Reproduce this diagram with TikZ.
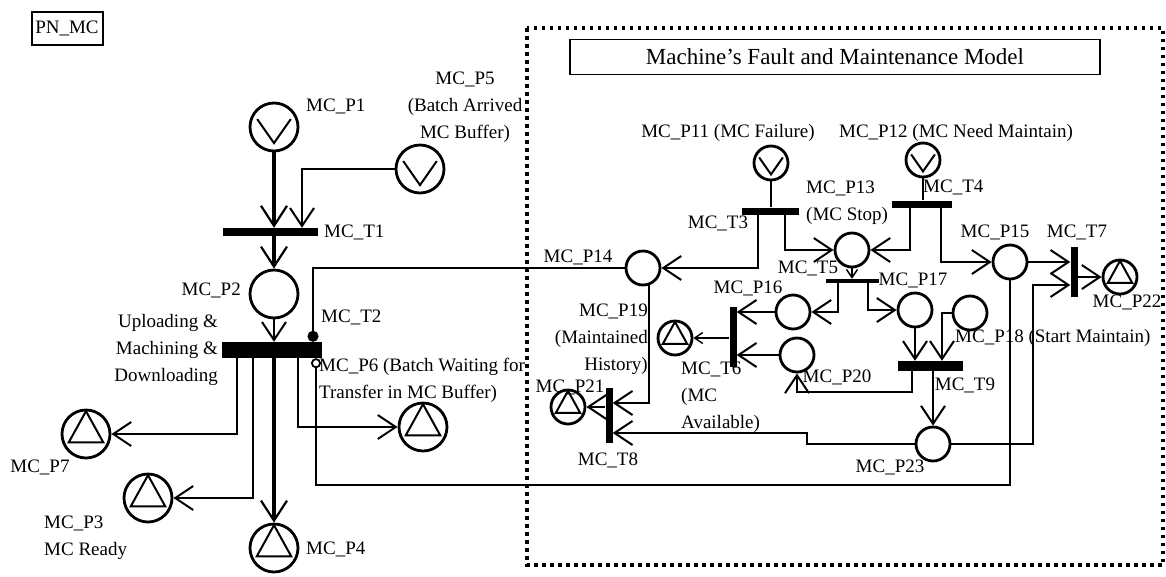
\documentclass[tikz,border=0pt]{standalone}
\usepackage{fontspec}
\setmainfont{Liberation Serif}
\usetikzlibrary{arrows.meta,calc}
\newcommand\srcsym[2]{\draw[line width=2pt,line join=miter,shift={(#1.center)}] (-0.7*#2,-0.33*#2) -- (0,0.67*#2) -- (0.7*#2,-0.33*#2);}
\newcommand\snksym[2]{\draw[line width=2pt,shift={(#1.center)}] (0,-0.95*#2) -- (-0.72*#2,0.35*#2) -- (0.72*#2,0.35*#2) -- cycle;}
\tikzset{
  bigpl/.style={circle,draw,line width=2.8pt,minimum size=48pt,inner sep=0pt},
  smpl/.style={circle,draw,line width=2.8pt,minimum size=34pt,inner sep=0pt},
  hbar/.style={rectangle,fill=black,draw=none,inner sep=0pt},
  arc/.style={line width=2pt,-{Straight Barb[length=18pt,width=24pt,line width=2pt]}},
  thickarc/.style={line width=4pt,-{Straight Barb[length=20pt,width=26pt,line width=2.2pt]}},
  smallarc/.style={line width=2pt,-{Straight Barb[length=8pt,width=11pt,line width=1.5pt]}},
  plain/.style={line width=2pt},
  lbl/.style={inner sep=0pt},
  dotframe/.style={line width=3.5pt,dash pattern=on 3.5pt off 4.5pt}
}
\begin{document}
\begin{tikzpicture}[x=1pt,y=-1pt,font=\fontsize{19}{27}\selectfont]
\useasboundingbox (0,0) rectangle (1166,576);
% frames
\node[draw,line width=2pt,minimum width=71pt,minimum height=33pt,inner sep=0pt] (pnmc) at (67,28) {PN\_MC};
\draw[dotframe] (527,28) rectangle (1163,565);
\node[draw,line width=1.5pt,minimum width=530pt,minimum height=35pt,font=\fontsize{23}{26}\selectfont] (title) at (835,57) {Machine’s Fault and Maintenance Model};

% ---------- left part ----------
\node[bigpl] (p1) at (274,127) {};
\node[bigpl] (p5) at (420,169) {};
\node[hbar,minimum width=95pt,minimum height=8pt] (t1) at (270,232) {};
\node[bigpl] (p2) at (274,294) {};
\node[hbar,minimum width=100pt,minimum height=16pt] (t2) at (272,350) {};
\node[bigpl] (p7) at (86,434) {};
\node[bigpl] (p3) at (148,498) {};
\node[bigpl] (p4) at (274,548) {};
\node[bigpl] (p6) at (423,427) {};
\srcsym{p1}{24}
\srcsym{p5}{24}
\snksym{p7}{24}
\snksym{p3}{24}
\snksym{p4}{24}
\snksym{p6}{24}

% ---------- right part ----------
\node[smpl] (p11) at (771,163) {};
\node[hbar,minimum width=57pt,minimum height=7pt] (t3) at (770,211) {};
\node[smpl] (p12) at (923,160) {};
\node[hbar,minimum width=60pt,minimum height=7pt] (t4) at (922,204) {};
\node[smpl] (p13) at (852,250) {};
\node[smpl] (p14) at (643,268) {};
\node[smpl] (p15) at (1010,262) {};
\node[hbar,minimum width=7pt,minimum height=50pt] (t7) at (1074,272) {};
\node[smpl] (p22) at (1120,277) {};
\node[hbar,minimum width=53pt,minimum height=4pt] (t5) at (852,281) {};
\node[smpl] (p16) at (793,312) {};
\node[smpl] (p17) at (915,310) {};
\node[smpl] (p18) at (970,313) {};
\node[hbar,minimum width=7pt,minimum height=60pt] (t6) at (733,337) {};
\node[smpl] (p20) at (797,355) {};
\node[smpl] (p19) at (675,338) {};
\node[hbar,minimum width=65pt,minimum height=10pt] (t9) at (930,366) {};
\node[smpl] (p23) at (933,444) {};
\node[hbar,minimum width=7pt,minimum height=55pt] (t8) at (609,415) {};
\node[smpl] (p21) at (568,407) {};
\srcsym{p11}{17}
\srcsym{p12}{17}
\snksym{p22}{17}
\snksym{p19}{17}
\snksym{p21}{17}

% ---------- arcs left ----------
\draw[thickarc] (p1.south) -- (p1.south |- t1.north);
\draw[arc] (p5.west) -| ([xshift=32pt]t1.north);
\draw[thickarc] (t1.south -| p2) -- (p2.north);
\draw[arc] (p2.south) -- (p2.south |- t2.north);
\draw[arc] ([xshift=-35pt]t2.south) |- (p7.east);
\draw[arc] ([xshift=-19pt]t2.south) |- (p3.east);
\draw[thickarc] (t2.south -| p4) -- (p4.north);
\draw[arc] ([xshift=26pt]t2.south) |- (p6.west);
\draw[plain,-{Circle[length=11pt]}] (p14.west) -| ([xshift=41pt]t2.north);
\coordinate (inh) at (316,485);
\draw[plain,-{Circle[open,length=10pt,line width=1.8pt]}] (p15.south) |- (inh) -- ([xshift=44pt]t2.south);

% ---------- arcs right ----------
\draw[plain] (p11.south) -- (p11.south |- t3.north);
\draw[arc] ([xshift=-12pt]t3.south) |- (p14.east);
\draw[arc] ([xshift=15pt]t3.south) |- (p13.west);
\draw[plain] (p12.south) -- (p12.south |- t4.north);
\draw[arc] ([xshift=-12pt]t4.south) |- (p13.east);
\draw[arc] ([xshift=19pt]t4.south) |- (p15.west);
\draw[arc] (p15.east) -- (p15.east -| t7.west);
\draw[arc] (t7.east |- p22) -- (p22.west);
\draw[arc] (p23.east) -| ([xshift=-37pt,yshift=-13pt]t7.west) -- ([yshift=-13pt]t7.west);
\draw[smallarc] (p13.south) -- (p13.south |- t5.north);
\draw[arc] ([xshift=-14pt]t5.south) |- (p16.east);
\draw[arc] ([xshift=16pt]t5.south) |- (p17.west);
\draw[arc] (p16.west) -- (p16.west -| t6.east);
\draw[arc] (p20.west) -- (p20.west -| t6.east);
\draw[smallarc] (t6.west |- p19) -- (p19.east);
\draw[arc] (p17.south) -- (p17.south |- t9.north);
\draw[arc] (p18.west) -| ([xshift=12pt]t9.north);
\draw[arc] (t9.south -| p23) -- (p23.north);
\draw[arc] ([xshift=-18pt]t9.south) -- ++(0,21) -| (p20.south);
\draw[arc] (p14.290) |- ([yshift=12pt]t8.east);
\draw[arc] (p23.west) -- ++(-108,0) -- ++(0,-11) -- ([yshift=-18pt]t8.east);
\draw[arc] (t8.west |- p21) -- (p21.east);

% ---------- labels ----------
\node[lbl,anchor=west] (lp1) at (306,106) {MC\_P1};
\node[lbl,align=center] (lp5) at (465,107) {MC\_P5\\(Batch Arrived\\MC Buffer)};
\node[lbl,anchor=west] (lt1) at (324,232) {MC\_T1};
\node[lbl,anchor=east] (lp2) at (241,290) {MC\_P2};
\node[lbl,align=right,anchor=east] (lup) at (218,350) {Uploading \&\\Machining \&\\Downloading};
\node[lbl,anchor=west] (lt2) at (321,317) {MC\_T2};
\node[lbl,align=left,anchor=west] (lp6) at (319,380) {MC\_P6 (Batch Waiting for\\Transfer in MC Buffer)};
\node[lbl] (lp7) at (40,467) {MC\_P7};
\node[lbl,align=left,anchor=west] (lp3) at (44,538) {MC\_P3\\MC Ready};
\node[lbl,anchor=west] (lp4) at (306,549) {MC\_P4};
\node[lbl] (lp11) at (728,133) {MC\_P11 (MC Failure)};
\node[lbl] (lp12) at (956,133) {MC\_P12 (MC Need Maintain)};
\node[lbl] (lt3) at (718,223) {MC\_T3};
\node[lbl,anchor=west] (lt4) at (923,187) {MC\_T4};
\node[lbl,align=left,anchor=west] (lp13) at (806,203) {MC\_P13\\(MC Stop)};
\node[lbl] (lp14) at (578,257) {MC\_P14};
\node[lbl] (lp15) at (995,232) {MC\_P15};
\node[lbl] (lt7) at (1077,232) {MC\_T7};
\node[lbl] (lp22) at (1127,302) {MC\_P22};
\node[lbl] (lt5) at (808,268) {MC\_T5};
\node[lbl] (lp16) at (748,288) {MC\_P16};
\node[lbl] (lp17) at (913,280) {MC\_P17};
\node[lbl,anchor=west] (lp18) at (955,338) {MC\_P18 (Start Maintain)};
\node[lbl,align=right,anchor=east] (lp19) at (648,339) {MC\_P19\\(Maintained\\History)};
\node[lbl,align=left,anchor=west] (lt6) at (681,397) {MC\_T6\\(MC\\Available)};
\node[lbl] (lp20) at (837,377) {MC\_P20};
\node[lbl] (lt9) at (965,385) {MC\_T9};
\node[lbl] (lp21) at (570,387) {MC\_P21};
\node[lbl] (lt8) at (608,460) {MC\_T8};
\node[lbl] (lp23) at (890,467) {MC\_P23};
\end{tikzpicture}
\end{document}
